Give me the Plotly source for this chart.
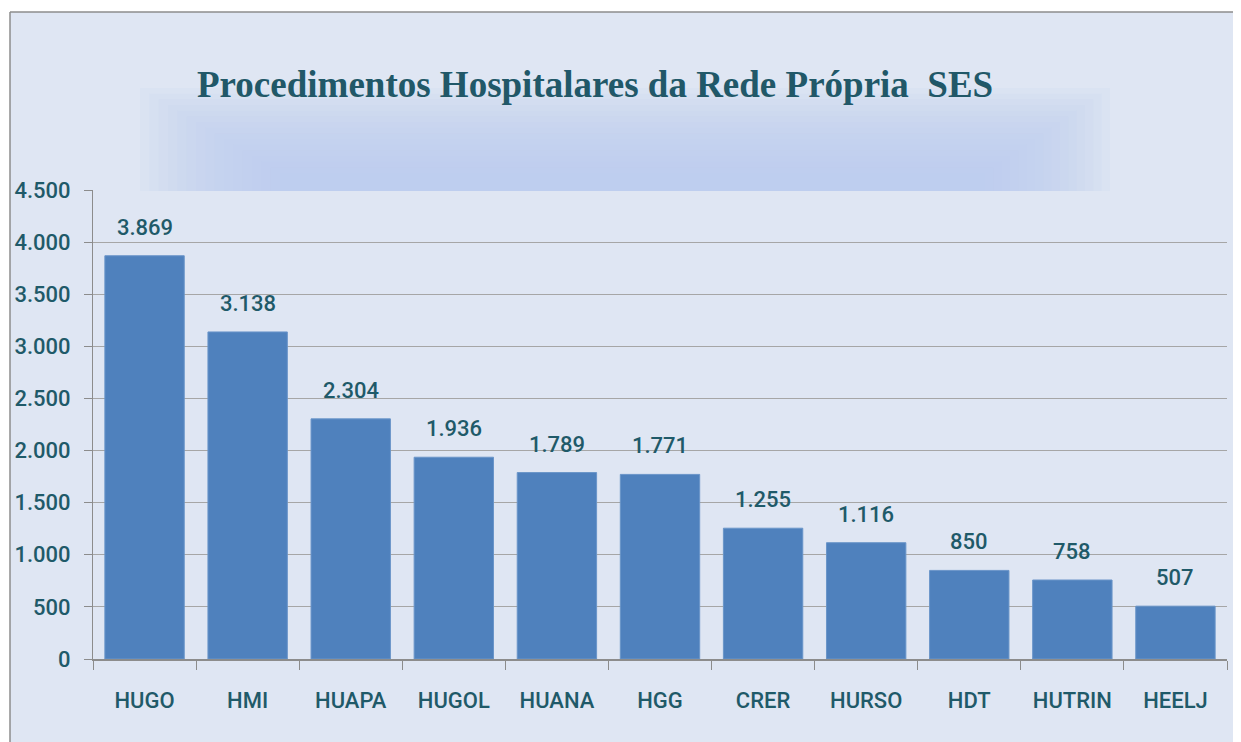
import plotly.graph_objects as go

categories = ["HUGO", "HMI", "HUAPA", "HUGOL", "HUANA", "HGG", "CRER", "HURSO", "HDT", "HUTRIN", "HEELJ"]
values = [3869, 3138, 2304, 1936, 1789, 1771, 1255, 1116, 850, 758, 507]
y_ticks = [0, 500, 1000, 1500, 2000, 2500, 3000, 3500, 4000, 4500]
title_text = "Procedimentos Hospitalares da Rede Própria\u00a0\u00a0SES"

OFF = 8  # page body margin
W, H = 1241 - OFF, 742 - OFF
ML, MT = 93 - OFF, 190 - OFF
MR = W - (1227 - OFF)
MB = H - (659 - OFF)
PW, PH = W - ML - MR, H - MT - MB


def px_x(p):  # reference page pixel -> paper
    return (p - OFF - ML) / PW


def px_y(p):
    return 1 + (MT - (p - OFF)) / PH


TEAL = "#1f5a69"
FONT = "Roboto, sans-serif"

fig = go.Figure()
fig.add_trace(go.Bar(
    x=categories, y=values,
    marker=dict(color="#4f81bd", line=dict(color="#6a95c9", width=1)),
    hoverinfo="x+y",
))

annotations = []
for c, v in zip(categories, values):
    annotations.append(dict(
        x=c, y=v, xref="x", yref="y", text=f"{v:,}".replace(",", "."),
        showarrow=False, yanchor="bottom", yshift=14,
        font=dict(family=FONT, size=22, color=TEAL, weight=500),
    ))
annotations.append(dict(
    x=px_x(595), y=px_y(84), xref="paper", yref="paper", text=title_text,
    showarrow=False, xanchor="center", yanchor="middle",
    font=dict(family="Liberation Serif, serif", size=37, color="#215868", weight="bold"),
))

shapes = []
# chart-area background inside frame
shapes.append(dict(type="rect", xref="paper", yref="paper",
                   x0=px_x(10), x1=px_x(1260), y0=px_y(760), y1=px_y(12),
                   fillcolor="#dfe6f3", line=dict(width=0), layer="below"))
# soft glow beneath title (stacked translucent rectangles)
n = 16
for i in range(n):
    t = i / (n - 1)
    shapes.append(dict(type="rect", xref="paper", yref="paper",
                       x0=px_x(140 + 140 * t), x1=px_x(1110 - 125 * t),
                       y0=px_y(191), y1=px_y(88 + 85 * t),
                       fillcolor="#c1cfec", opacity=0.12, line=dict(width=0), layer="below"))
# outer frame lines
shapes.append(dict(type="line", xref="paper", yref="paper", x0=px_x(10), x1=px_x(1260),
                   y0=px_y(12), y1=px_y(12), line=dict(color="#8c8c8c", width=1.5)))
shapes.append(dict(type="line", xref="paper", yref="paper", x0=px_x(10), x1=px_x(10),
                   y0=px_y(12), y1=px_y(760), line=dict(color="#8c8c8c", width=1.5)))

fig.update_layout(
    width=W, height=H,
    margin=dict(l=ML, r=MR, t=MT, b=MB, autoexpand=False),
    paper_bgcolor="#ffffff",
    plot_bgcolor="#ffffff",
    separators=",.",
    bargap=0.23,
    showlegend=False,
    annotations=annotations,
    shapes=shapes,
    font=dict(family=FONT, color=TEAL),
)
fig.update_yaxes(
    range=[0, 4500], tickvals=y_ticks, tickformat=",d",
    showgrid=True, gridcolor="#a6a6a6", gridwidth=1,
    showline=True, linecolor="#8c8c8c", linewidth=1,
    ticks="outside", ticklen=8, tickcolor="#8c8c8c",
    tickfont=dict(family=FONT, size=22, color=TEAL, weight=500),
    ticklabelstandoff=9, zeroline=False, fixedrange=True,
)
fig.update_xaxes(
    showline=True, linecolor="#8c8c8c", linewidth=1.5,
    ticks="outside", tickson="boundaries", ticklen=9, tickcolor="#8c8c8c",
    tickfont=dict(family=FONT, size=22, color=TEAL, weight=500),
    ticklabelstandoff=21, fixedrange=True,
)

fig.write_html("out.html")
